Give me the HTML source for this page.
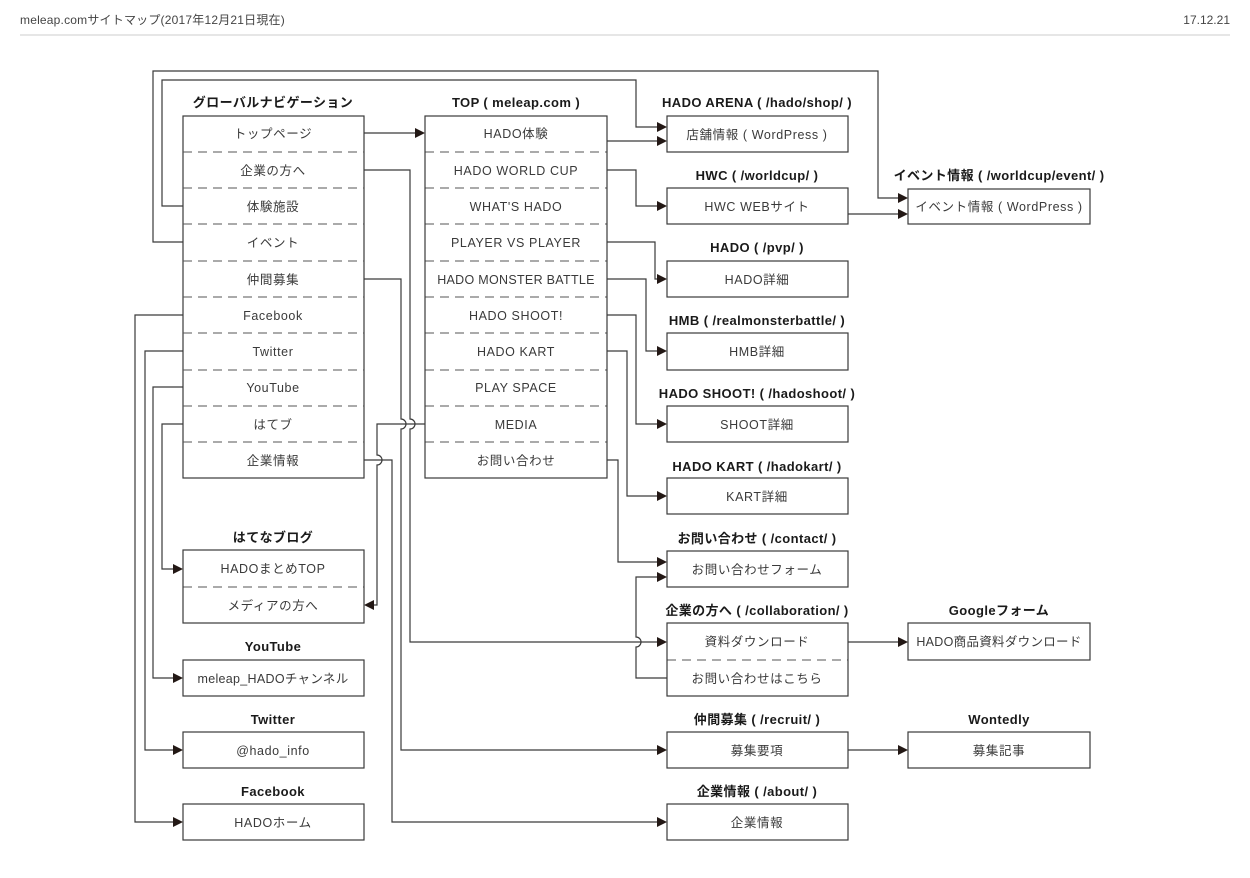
<!DOCTYPE html>
<html><head><meta charset="utf-8"><style>
html,body{margin:0;padding:0;background:#fff;}
svg{display:block;}
text{font-family:"Liberation Sans","Noto Sans CJK JP",sans-serif;}
.t{font-size:13px;font-weight:bold;fill:#1a1a1a;text-anchor:middle;letter-spacing:0.4px;}
.b{font-size:12.5px;fill:#3a3a3a;text-anchor:middle;letter-spacing:0.6px;}
.bx{fill:#fff;stroke:#3a3a3a;stroke-width:1.2;}
.d{stroke:#555;stroke-width:1.1;stroke-dasharray:9,6;}
.l{fill:none;stroke:#3a3a3a;stroke-width:1.2;}
.a{fill:#231815;}
</style></head><body>
<svg width="1250" height="878" viewBox="0 0 1250 878" xmlns="http://www.w3.org/2000/svg">
<text x="20" y="24" style="font-size:12px;fill:#444;letter-spacing:0.2px">meleap.comサイトマップ(2017年12月21日現在)</text>
<text x="1230" y="24" style="font-size:12px;fill:#444;text-anchor:end">17.12.21</text>
<line x1="20" y1="35" x2="1230" y2="35" stroke="#ccc" stroke-width="1"/>

<g class="l">
<path d="M183 242H153V71H878V198H903"/>
<path d="M183 206H162V80H636V127H662"/>
<path d="M364 133H420"/>
<path d="M364 170H410V419A5 5 0 0 1 410 429V642H662"/>
<path d="M364 279H401V419A5 5 0 0 1 401 429V750H662"/>
<path d="M364 460H392V822H662"/>
<path d="M425 424H377V455A5 5 0 0 1 377 465V605H369"/>
<path d="M183 315H135V822H178"/>
<path d="M183 351H145V750H178"/>
<path d="M183 387H153V678H178"/>
<path d="M183 424H162V569H178"/>
<path d="M607 141H662"/>
<path d="M607 170H636V206H662"/>
<path d="M607 242H655V279H662"/>
<path d="M607 279H646V351H662"/>
<path d="M607 315H636V424H662"/>
<path d="M607 351H627V496H662"/>
<path d="M607 460H618V562H662"/>
<path d="M667 678H636V647A5 5 0 0 0 636 637V577H662"/>
<path d="M848 214H903"/>
<path d="M848 642H903"/>
<path d="M848 750H903"/>
</g>
<g class="a">
<polygon points="415,128 425,133 415,138"/>
<polygon points="898,193 908,198 898,203"/>
<polygon points="898,209 908,214 898,219"/>
<polygon points="657,122 667,127 657,132"/>
<polygon points="657,136 667,141 657,146"/>
<polygon points="657,201 667,206 657,211"/>
<polygon points="657,274 667,279 657,284"/>
<polygon points="657,346 667,351 657,356"/>
<polygon points="657,419 667,424 657,429"/>
<polygon points="657,491 667,496 657,501"/>
<polygon points="657,557 667,562 657,567"/>
<polygon points="657,572 667,577 657,582"/>
<polygon points="657,637 667,642 657,647"/>
<polygon points="657,745 667,750 657,755"/>
<polygon points="657,817 667,822 657,827"/>
<polygon points="898,637 908,642 898,647"/>
<polygon points="898,745 908,750 898,755"/>
<polygon points="173,564 183,569 173,574"/>
<polygon points="173,673 183,678 173,683"/>
<polygon points="173,745 183,750 173,755"/>
<polygon points="173,817 183,822 173,827"/>
<polygon points="374,600 364,605 374,610"/>
</g>

<text class="t" x="273" y="107">グローバルナビゲーション</text>
<rect class="bx" x="183" y="116" width="181" height="362"/>
<g class="d">
<line x1="183" y1="152" x2="364" y2="152"/><line x1="183" y1="188" x2="364" y2="188"/>
<line x1="183" y1="224" x2="364" y2="224"/><line x1="183" y1="261" x2="364" y2="261"/>
<line x1="183" y1="297" x2="364" y2="297"/><line x1="183" y1="333" x2="364" y2="333"/>
<line x1="183" y1="370" x2="364" y2="370"/><line x1="183" y1="406" x2="364" y2="406"/>
<line x1="183" y1="442" x2="364" y2="442"/>
<line x1="425" y1="152" x2="607" y2="152"/><line x1="425" y1="188" x2="607" y2="188"/>
<line x1="425" y1="224" x2="607" y2="224"/><line x1="425" y1="261" x2="607" y2="261"/>
<line x1="425" y1="297" x2="607" y2="297"/><line x1="425" y1="333" x2="607" y2="333"/>
<line x1="425" y1="370" x2="607" y2="370"/><line x1="425" y1="406" x2="607" y2="406"/>
<line x1="425" y1="442" x2="607" y2="442"/>
<line x1="183" y1="587" x2="364" y2="587"/>
<line x1="667" y1="660" x2="848" y2="660"/>
</g>
<g class="b">
<text x="273" y="138">トップページ</text><text x="273" y="175">企業の方へ</text>
<text x="273" y="211">体験施設</text><text x="273" y="247">イベント</text>
<text x="273" y="284">仲間募集</text><text x="273" y="320">Facebook</text>
<text x="273" y="356">Twitter</text><text x="273" y="392">YouTube</text>
<text x="273" y="429">はてブ</text><text x="273" y="465">企業情報</text>
</g>

<text class="t" x="516" y="107">TOP ( meleap.com )</text>
<rect class="bx" x="425" y="116" width="182" height="362" style="fill:none"/>
<g class="b">
<text x="516" y="138">HADO体験</text><text x="516" y="175">HADO WORLD CUP</text>
<text x="516" y="211">WHAT'S HADO</text><text x="516" y="247">PLAYER VS PLAYER</text>
<text x="516" y="284" style="letter-spacing:0.3px">HADO MONSTER BATTLE</text><text x="516" y="320">HADO SHOOT!</text>
<text x="516" y="356">HADO KART</text><text x="516" y="392">PLAY SPACE</text>
<text x="516" y="429">MEDIA</text><text x="516" y="465">お問い合わせ</text>
</g>

<g>
<text class="t" x="757" y="107">HADO ARENA ( /hado/shop/ )</text>
<rect class="bx" x="667" y="116" width="181" height="36"/><text class="b" x="757" y="139">店舗情報 ( WordPress )</text>
<text class="t" x="757" y="180">HWC ( /worldcup/ )</text>
<rect class="bx" x="667" y="188" width="181" height="36"/><text class="b" x="757" y="211">HWC WEBサイト</text>
<text class="t" x="757" y="252">HADO ( /pvp/ )</text>
<rect class="bx" x="667" y="261" width="181" height="36"/><text class="b" x="757" y="284">HADO詳細</text>
<text class="t" x="757" y="325">HMB ( /realmonsterbattle/ )</text>
<rect class="bx" x="667" y="333" width="181" height="37"/><text class="b" x="757" y="356">HMB詳細</text>
<text class="t" x="757" y="398">HADO SHOOT! ( /hadoshoot/ )</text>
<rect class="bx" x="667" y="406" width="181" height="36"/><text class="b" x="757" y="429">SHOOT詳細</text>
<text class="t" x="757" y="471">HADO KART ( /hadokart/ )</text>
<rect class="bx" x="667" y="478" width="181" height="36"/><text class="b" x="757" y="501">KART詳細</text>
<text class="t" x="757" y="543">お問い合わせ ( /contact/ )</text>
<rect class="bx" x="667" y="551" width="181" height="36"/><text class="b" x="757" y="574">お問い合わせフォーム</text>
<text class="t" x="757" y="615">企業の方へ ( /collaboration/ )</text>
<rect class="bx" x="667" y="623" width="181" height="73" style="fill:none"/>
<text class="b" x="757" y="646">資料ダウンロード</text><text class="b" x="757" y="683">お問い合わせはこちら</text>
<text class="t" x="757" y="724">仲間募集 ( /recruit/ )</text>
<rect class="bx" x="667" y="732" width="181" height="36"/><text class="b" x="757" y="755">募集要項</text>
<text class="t" x="757" y="796">企業情報 ( /about/ )</text>
<rect class="bx" x="667" y="804" width="181" height="36"/><text class="b" x="757" y="827">企業情報</text>
</g>

<text class="t" x="999" y="180">イベント情報 ( /worldcup/event/ )</text>
<rect class="bx" x="908" y="189" width="182" height="35"/><text class="b" x="999" y="211">イベント情報 ( WordPress )</text>
<text class="t" x="999" y="615">Googleフォーム</text>
<rect class="bx" x="908" y="623" width="182" height="37"/><text class="b" x="999" y="646" style="letter-spacing:0.3px">HADO商品資料ダウンロード</text>
<text class="t" x="999" y="724">Wontedly</text>
<rect class="bx" x="908" y="732" width="182" height="36"/><text class="b" x="999" y="755">募集記事</text>

<text class="t" x="273" y="542">はてなブログ</text>
<rect class="bx" x="183" y="550" width="181" height="73" style="fill:none"/>
<text class="b" x="273" y="573">HADOまとめTOP</text><text class="b" x="273" y="610">メディアの方へ</text>
<text class="t" x="273" y="651">YouTube</text>
<rect class="bx" x="183" y="660" width="181" height="36"/><text class="b" x="273" y="683" style="letter-spacing:0.3px">meleap_HADOチャンネル</text>
<text class="t" x="273" y="724">Twitter</text>
<rect class="bx" x="183" y="732" width="181" height="36"/><text class="b" x="273" y="755">@hado_info</text>
<text class="t" x="273" y="796">Facebook</text>
<rect class="bx" x="183" y="804" width="181" height="36"/><text class="b" x="273" y="827">HADOホーム</text>
</svg>
</body></html>
